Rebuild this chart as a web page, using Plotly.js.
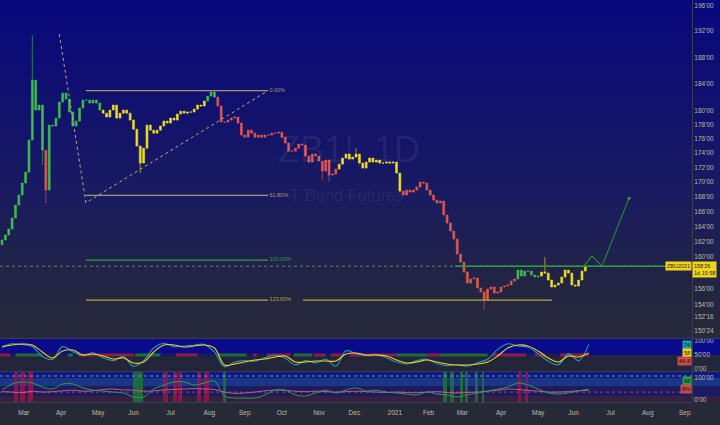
<!DOCTYPE html>
<html><head><meta charset="utf-8">
<script src="https://cdn.plot.ly/plotly-3.0.1.min.js"></script>
<style>
html,body{margin:0;padding:0;width:720px;height:425px;overflow:hidden;}
body{background:
 linear-gradient(to bottom,#08087f 0%,#10106f 28%,#1a1b60 58%,#23263f 88%,#272a3a 100%) 0 0/720px 338px no-repeat,
 #262a37;}
#chart{width:720px;height:425px;}
</style></head><body><div id="chart"></div>
<script>
// ---------- data ----------
// x unit: trading-day index, 0 = 1 Apr 2020; bars every 2 trading days
const firstBarK = -35;
const firstOpen = 161.6;
const priceClose = [162.20,162.86,163.65,165.11,166.85,168.20,169.84,171.35,175.84,184.56,
180.15,180.88,174.42,168.88,177.98,177.84,178.99,181.32,182.64,181.76,
179.86,177.84,178.56,180.44,181.61,181.61,181.17,181.61,181.17,180.15,
179.71,179.14,180.15,180.88,178.99,179.71,180.15,179.71,178.70,177.40,
174.99,172.60,174.70,177.98,177.26,176.83,177.26,177.84,178.56,178.27,
178.99,178.70,179.57,180.00,179.71,179.86,179.86,180.30,180.88,180.74,
181.46,182.20,182.79,182.05,180.74,178.41,178.41,178.70,178.99,179.14,
178.27,176.55,176.26,177.26,176.83,176.26,176.55,176.26,176.55,176.55,
176.83,176.83,176.97,176.26,175.41,174.28,174.28,174.70,175.27,175.13,
173.58,172.74,173.86,173.58,172.88,171.49,173.02,170.94,171.08,171.77,
172.46,173.30,173.86,173.16,173.44,173.86,172.60,171.91,172.74,173.30,
172.74,173.02,172.60,172.60,172.74,172.60,172.74,171.22,168.74,168.20,
168.88,168.61,168.88,169.29,169.98,169.84,168.88,168.20,167.52,167.12,
167.39,165.51,164.44,163.39,162.33,160.38,159.34,158.07,156.67,157.18,
157.30,156.04,155.54,154.53,155.92,156.17,155.41,155.54,156.17,156.29,
156.42,156.92,157.18,158.32,157.56,158.19,158.19,157.68,157.43,157.56,
158.07,157.94,157.05,156.17,156.42,156.67,157.43,158.32,157.94,156.42,
156.29,157.05,158.19,158.81];
const wickIdx  = [9, 12, 13, 41, 62, 95, 97, 105, 143, 161];
const wickHigh = [191.4, null, null, null, 183.1, null, null, 174.7, null, 160.0];
const wickLow  = [180.6, 172.3, 167.1, 171.2, null, 170.25, 169.98, null, 153.3, null];
// regime of the colouring indicator, by first bar index
const regimeStart = [0, 13, 14, 30, 61, 64, 100, 119, 153, 160];
const regimeName  = ['up','down','up','flat','up','down','flat','down','up','flat'];

// oscillator panes, sampled every 3 bars
const stochK = [80,90,88,80,45,35,80,62,48,58, 40,30,45,10,30,75,92,80,82,85, 88,60,8,25,30,28,40,50,38,15,
 30,22,35,10,65,55,48,52,40,25, 18,30,35,20,12,15,10,22,35,70, 90,82,78,55,28,15,55,30,88];
const stochD = [78.6,85.7,89.3,85.7,60.7,39.3,64.3,67.9,50,53.6, 46.4,35.7,39.3,21.4,25,60.7,85.7,85.7,78.6,82.1,
 85.7,75,14.3,17.9,25,32.1,35.7,42.9,46.4,25, 25,28.6,28.6,28.6,53.6,57.1,50,50,46.4,32.1,
 21.4,25,32.1,25,17.9,14.3,14.3,17.9,25,46.4, 75,85.7,82.1,64.3,39.3,25,46.4,42.9,57];
const oscFast = [45,73,82,77,59,50,73,73,55,45, 41,36,32,14,14,50,68,82,82,68, 77,86,18,9,9,9,23,45,45,23,
 18,32,45,32,45,55,41,45,36,32, 27,23,36,27,23,14,23,32,41,50, 59,77,68,50,32,27,32,41,50];
const oscSlow = [38,36,33,40,36,38,42,45,40,42, 48,50,46,45,40,42,46,48,50,52, 50,48,36,30,32,36,42,45,44,40,
 38,40,38,36,38,40,38,36,34,36, 34,33,36,38,34,32,34,36,40,44, 50,48,44,40,36,36,38,42,44];
// state strip (pane 2) : from/to trading-day index
const stateFrom = [-36,-27,4,10,44,68,93,114,122,138,150,160,171,199,217,225,256,281,296];
const stateTo   = [-30,-11,7,43,59,81,110,116,136,149,157,168,199,217,225,253,276,287,313];
const stateVal  = ['R','G','G','R','G','R','G','R','R','G','R','R','R','G','R','G','R','R','R'];
// signal columns (pane 3)
const colFrom = [-28,-24.3,-19.6,60.5,66.4,69.4,80.7,84.8,271,275, 42.7,96,226.6,230.7,236.7,239.6,245.6,249.7];
const colTo   = [-25.5,-21.4,-16.6,63.5,68.8,71.8,83,87.8,273,277, 48.6,98,229,233,238.4,241.4,247.3,251];
const colVal  = ['R','R','R','R','R','R','R','R','R','R','G','G','G','G','G','G','G','G'];

// drawings
const fibTop = 183.0, fibBase = 159.6;
const fibRatios = [0, 0.618, 1, 1.236];
const fibLabels = ['0.00%','61.80%','100.00%','123.60%'];
const fibFromK = 14.8, fibToK = 122.8;
const supportFromK = 143.5, supportToK = 291.2;
const trendK = [-1.0, 14.8, 122.8];
const trendP = [191.54, 167.16, 183.0];
const projK = [309.6, 314.9, 320.9, 336.9];
const projP = [158.70, 160.12, 158.83, 167.79];
const neckFromK = 233.7, neckToK = 362.4;
const lastPrice = 158.81;

// axis ticks
const monthPos = [-22,0,22,43,65,88,109,131,153,174,198,218,238,261,283,304,326,348,370];
const monthLabel = ['Mar','Apr','May','Jun','Jul','Aug','Sep','Oct','Nov','Dec','2021','Feb','Mar','Apr','May','Jun','Jul','Aug','Sep'];
const priceTicks = [196,192,188,184,180,178,176,174,172,170,168,166,164,162,160,156,154,152.5,150.75];
const priceTickText = ["196'00","192'00","188'00","184'00","180'00","178'00","176'00","174'00","172'00","170'00","168'00","166'00","164'00","162'00","160'00","156'00","154'00","152'16","150'24"];

// ---------- build ----------
const XMIN = -36.18, XMAX = 374.26;
const regimeColor = {up:'#3fbe4e', down:'#e0594f', flat:'#f2de1e'};
const stateColor = {R:'#8c1d45', G:'#1f6e2e'};
const columnColor = {R:'rgba(150,24,78,0.8)', G:'rgba(28,118,50,0.85)'};
const axisFont = {family:'Liberation Sans, Arial, sans-serif', size:6.5, color:'#bdbaa8'};

const barK = priceClose.map((_, i) => firstBarK + 2 * i);
const opens = priceClose.map((c, i) => i === 0 ? firstOpen : priceClose[i - 1]);
const highs = priceClose.map((c, i) => Math.max(c, opens[i]));
const lows = priceClose.map((c, i) => Math.min(c, opens[i]));
wickIdx.forEach((b, n) => {
  if (wickHigh[n] != null) highs[b] = Math.max(highs[b], wickHigh[n]);
  if (wickLow[n] != null) lows[b] = Math.min(lows[b], wickLow[n]);
});
function regimeOf(i){ let r = regimeName[0]; regimeStart.forEach((s, n) => { if (i >= s) r = regimeName[n]; }); return r; }

const traces = [];
// current-price dotted line
traces.push({type:'scatter', mode:'lines', x:[XMIN, XMAX], y:[lastPrice, lastPrice], xaxis:'x', yaxis:'y',
  line:{color:'rgba(160,160,120,0.7)', width:1, dash:'dot'}, hoverinfo:'skip'});
['up','down','flat'].forEach(rg => {
  const idx = priceClose.map((_, i) => i).filter(i => regimeOf(i) === rg);
  const col = regimeColor[rg];
  traces.push({type:'candlestick', xaxis:'x', yaxis:'y',
    x: idx.map(i => barK[i]), open: idx.map(i => opens[i]), high: idx.map(i => highs[i]),
    low: idx.map(i => lows[i]), close: idx.map(i => priceClose[i]),
    increasing:{line:{color:col, width:0.6}, fillcolor:col},
    decreasing:{line:{color:col, width:0.6}, fillcolor:col},
    whiskerwidth:0, hoverinfo:'skip', showlegend:false});
});
// fib levels (log-scale)
const fibColors = ['#a8966a','#a39a7c','#2f9c46','#b8a43c'];
const fibPrice = fibRatios.map(r => Math.exp(Math.log(fibTop) - r * (Math.log(fibTop) - Math.log(fibBase))));
fibPrice.forEach((p, n) => {
  traces.push({type:'scatter', mode:'lines', x:[fibFromK, fibToK], y:[p, p], xaxis:'x', yaxis:'y',
    line:{color:fibColors[n], width:1.2}, hoverinfo:'skip'});
  traces.push({type:'scatter', mode:'text', x:[fibToK + 0.8], y:[p], text:[fibLabels[n]], textposition:'middle right',
    textfont:{family:'Liberation Sans, Arial', size:5.5, color:fibColors[n]}, xaxis:'x', yaxis:'y', hoverinfo:'skip'});
});
traces.push({type:'scatter', mode:'lines', x:[supportFromK, supportToK], y:[fibPrice[3], fibPrice[3]], xaxis:'x', yaxis:'y',
  line:{color:fibColors[3], width:1.2}, hoverinfo:'skip'});
traces.push({type:'scatter', mode:'lines', x:trendK, y:trendP, xaxis:'x', yaxis:'y',
  line:{color:'#b9ab80', width:1, dash:'dot'}, hoverinfo:'skip'});
traces.push({type:'scatter', mode:'lines', x:[neckFromK, neckToK], y:[lastPrice, lastPrice], xaxis:'x', yaxis:'y',
  line:{color:'#2fa040', width:1.4}, hoverinfo:'skip'});
traces.push({type:'scatter', mode:'lines', x:projK, y:projP, xaxis:'x', yaxis:'y',
  line:{color:'#1f8f35', width:1.1}, hoverinfo:'skip'});
traces.push({type:'scatter', mode:'markers', x:[projK[projK.length-1]], y:[projP[projP.length-1]], xaxis:'x', yaxis:'y',
  marker:{color:'#2fa040', size:3}, hoverinfo:'skip'});

// pane 2
const oscK = stochK.map((_, j) => firstBarK + 6 * j);
traces.push({type:'scatter', mode:'lines', x:[XMIN, stateTo[stateTo.length-1]], y:[50, 50], xaxis:'x', yaxis:'y2',
  line:{color:'#1b1b55', width:3}, hoverinfo:'skip'});
stateFrom.forEach((f, n) => {
  traces.push({type:'scatter', mode:'lines', x:[f, stateTo[n]], y:[50, 50], xaxis:'x', yaxis:'y2',
    line:{color:stateColor[stateVal[n]], width:3}, hoverinfo:'skip'});
});
traces.push({type:'scatter', mode:'lines', x:oscK, y:stochK, xaxis:'x', yaxis:'y2',
  line:{color:'#1d9ea8', width:1.1, shape:'spline'}, hoverinfo:'skip'});
traces.push({type:'scatter', mode:'lines', x:oscK, y:stochD, xaxis:'x', yaxis:'y2',
  line:{color:'#f4cf1e', width:1.1, shape:'spline'}, hoverinfo:'skip'});

// pane 3
traces.push({type:'bar', x:colFrom.map((f, n) => (f + colTo[n]) / 2), width:colFrom.map((f, n) => colTo[n] - f),
  y:colFrom.map(() => 136.4), base:-9.1, xaxis:'x', yaxis:'y3',
  marker:{color:colVal.map(v => columnColor[v]), line:{width:0}}, hoverinfo:'skip'});
traces.push({type:'scatter', mode:'lines', x:[XMIN, XMAX], y:[109, 109], xaxis:'x', yaxis:'y3',
  line:{color:'#7d8fd6', width:1, dash:'dot'}, hoverinfo:'skip'});
traces.push({type:'scatter', mode:'lines', x:[XMIN, XMAX], y:[36, 36], xaxis:'x', yaxis:'y3',
  line:{color:'#9a4a6c', width:1, dash:'dot'}, hoverinfo:'skip'});
traces.push({type:'scatter', mode:'lines', x:oscK, y:oscSlow, xaxis:'x', yaxis:'y3',
  line:{color:'#d8607c', width:0.9, shape:'spline'}, hoverinfo:'skip'});
traces.push({type:'scatter', mode:'lines', x:oscK, y:oscFast, xaxis:'x', yaxis:'y3',
  line:{color:'#2aa04a', width:1, shape:'spline'}, hoverinfo:'skip'});

const XR = 720 / 692;
const shapes = [
  {type:'rect', xref:'paper', yref:'y2', x0:0, x1:XR, y0:50, y1:107.1, fillcolor:'#0a0a8c', line:{width:0}, layer:'below'},
  {type:'rect', xref:'paper', yref:'y2', x0:0, x1:XR, y0:-7.1, y1:50, fillcolor:'#23263a', line:{width:0}, layer:'below'},
  {type:'rect', xref:'paper', yref:'y3', x0:0, x1:XR, y0:100, y1:127.3, fillcolor:'#0d1a80', line:{width:0}, layer:'below'},
  {type:'rect', xref:'paper', yref:'y3', x0:0, x1:XR, y0:62, y1:100, fillcolor:'#1b3686', line:{width:0}, layer:'below'},
  {type:'rect', xref:'paper', yref:'y3', x0:0, x1:XR, y0:18, y1:62, fillcolor:'#1a1b62', line:{width:0}, layer:'below'},
  {type:'rect', xref:'paper', yref:'y3', x0:0, x1:XR, y0:-9.1, y1:18, fillcolor:'#34203f', line:{width:0}, layer:'below'},
  {type:'line', xref:'paper', yref:'paper', x0:0, x1:XR, y0:0.1580, y1:0.1580, line:{color:'#393c4e', width:1.2}},
  {type:'line', xref:'paper', yref:'paper', x0:0, x1:XR, y0:0.0759, y1:0.0759, line:{color:'#393c4e', width:1.2}}
];

const lg = v => Math.log10(v);
const annotations = [
  {xref:'paper', yref:'paper', x:0.504, y:0.627, text:'ZB1!, 1D', showarrow:false,
   font:{family:'Liberation Sans, Arial', size:36, color:'rgba(255,255,255,0.065)'}},
  {xref:'paper', yref:'paper', x:0.502, y:0.515, text:'T-Bond Futures', showarrow:false,
   font:{family:'Liberation Sans, Arial', size:16.5, color:'rgba(255,255,255,0.065)'}},
  {xref:'paper', yref:'y', x:1, y:lg(lastPrice), xanchor:'right', text:'ZBU2021', showarrow:false,
   bgcolor:'#f1d51b', borderpad:1, font:{family:'Liberation Sans, Arial', size:5.5, color:'#222'}},
  {xref:'paper', yref:'y', x:1, y:lg(lastPrice) - 0.0012, xanchor:'left', text:"158'26<br>1d 19 58", showarrow:false,
   bgcolor:'#f1d51b', borderpad:1, align:'left', font:{family:'Liberation Sans, Arial', size:5.5, color:'#222'}},
  {xref:'paper', yref:'y2', x:1, y:84, xanchor:'right', text:'74', showarrow:false, bgcolor:'#1d9ea8', borderpad:1,
   font:{family:'Liberation Sans, Arial', size:5.5, color:'#111'}},
  {xref:'paper', yref:'y2', x:1, y:56, xanchor:'right', text:'58', showarrow:false, bgcolor:'#f4cf1e', borderpad:1,
   font:{family:'Liberation Sans, Arial', size:5.5, color:'#111'}},
  {xref:'paper', yref:'y2', x:1, y:27, xanchor:'right', text:'44.4', showarrow:false, bgcolor:'#c84a4a', borderpad:1,
   font:{family:'Liberation Sans, Arial', size:5.5, color:'#111'}},
  {xref:'paper', yref:'y3', x:1, y:86, xanchor:'right', text:'68', showarrow:false, bgcolor:'#2aa04a', borderpad:1,
   font:{family:'Liberation Sans, Arial', size:5.5, color:'#111'}},
  {xref:'paper', yref:'y3', x:1, y:50, xanchor:'right', text:'8%', showarrow:false, bgcolor:'#c84a4a', borderpad:1,
   font:{family:'Liberation Sans, Arial', size:5.5, color:'#111'}}
];

const layout = {
  width:720, height:425, margin:{l:0, r:28, t:0, b:23, pad:0},
  paper_bgcolor:'rgba(0,0,0,0)', plot_bgcolor:'rgba(0,0,0,0)', showlegend:false,
  font:axisFont, bargap:0, boxgap:0.2,
  xaxis:{range:[XMIN, XMAX], domain:[0,1], anchor:'y3', tickvals:monthPos, ticktext:monthLabel,
    showgrid:false, zeroline:false, showline:true, linecolor:'#3a3d50', ticks:'', tickfont:axisFont,
    ticklabelstandoff:4, rangeslider:{visible:false}, fixedrange:true},
  yaxis:{type:'log', range:[2.17572, 2.29424], domain:[0.1592, 1], side:'right', anchor:'x',
    tickvals:priceTicks, ticktext:priceTickText, showgrid:false, zeroline:false, showline:true,
    linecolor:'#3a3d50', ticks:'', tickfont:axisFont, fixedrange:true},
  yaxis2:{range:[-7.1, 107.1], domain:[0.0771, 0.1567], side:'right', anchor:'x',
    tickvals:[0,50,100], ticktext:["0'00","50'00","100'00"], showgrid:false, zeroline:false,
    showline:true, linecolor:'#3a3d50', ticks:'', tickfont:axisFont, fixedrange:true},
  yaxis3:{range:[-9.1, 127.3], domain:[0, 0.0746], side:'right', anchor:'x',
    tickvals:[0,100], ticktext:["0'00","100'00"], showgrid:false, zeroline:false,
    showline:true, linecolor:'#3a3d50', ticks:'', tickfont:axisFont, fixedrange:true},
  shapes:shapes, annotations:annotations
};
Plotly.newPlot('chart', traces, layout, {staticPlot:true, displayModeBar:false});
</script></body></html>
